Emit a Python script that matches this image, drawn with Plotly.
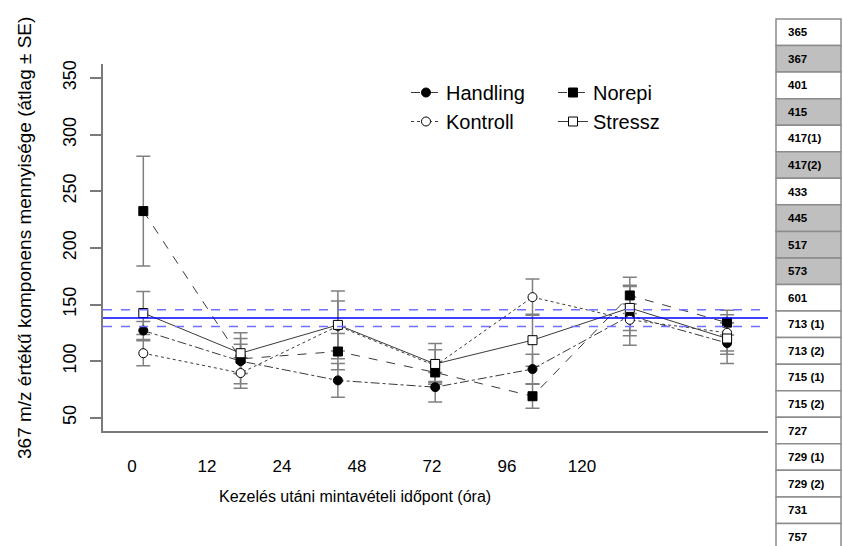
import plotly.graph_objects as go

# ---------------- data ----------------
times = ["0", "12", "24", "48", "72", "96", "120"]

handling = [127, 100, 83, 77, 93, 140, 116]
handling_se = [8, 20, 15, 13, 13, 26, 18]
kontroll = [107, 89.5, 131, 96, 156.5, 136.5, 125]
kontroll_se = [11, 13.5, 22, 14, 16, 14, 16]
norepi = [232.5, 102, 108.5, 90, 69, 158, 134]
norepi_se = [48.5, 13, 16, 9, 10.5, 16, 11]
stressz = [142.5, 107, 132, 97.5, 118.5, 147, 120]
stressz_se = [19, 18, 30, 18, 23, 20, 14]

ref_mean = 138
ref_se = 7.4

yticks = [50, 100, 150, 200, 250, 300, 350]

table_labels = ["365", "367", "401", "415", "417(1)", "417(2)", "433", "445", "517", "573",
                "601", "713 (1)", "713 (2)", "715 (1)", "715 (2)", "727", "729 (1)", "729 (2)",
                "731", "757"]
table_shaded = [False, True, False, True, False, True, False, True, True, True,
                False, False, False, False, False, False, False, False, False, False]

# ---------------- layout helpers ----------------
W, H = 843, 546
L, R, T, B = 103, 768, 64, 431


def px_x(p):
    return (p - L) / (R - L)


def px_y(p):
    return (B - p) / (B - T)


idx = list(range(len(times)))
LINE = "#3a3a3a"
ERR = "#808080"
AXC = "#7a7a7a"
FONT = "Liberation Sans, Arial"

series = [
    ("Handling", handling, handling_se, "circle", "black", "dashdot", "legend"),
    ("Kontroll", kontroll, kontroll_se, "circle-open", "white", "dot", "legend"),
    ("Norepi", norepi, norepi_se, "square", "black", "dash", "legend2"),
    ("Stressz", stressz, stressz_se, "square-open", "white", "solid", "legend2"),
]

fig = go.Figure()

# error bars first (underneath)
for name, vals, se, sym, fill, dash, lg in series:
    fig.add_trace(go.Scatter(
        x=idx, y=vals, mode="markers",
        marker=dict(size=1, color="rgba(0,0,0,0)"),
        error_y=dict(type="data", array=se, visible=True, color=ERR, thickness=1.5, width=7),
        showlegend=False, hoverinfo="skip"))

for name, vals, se, sym, fill, dash, lg in series:
    msym = "square" if "square" in sym else "circle"
    fig.add_trace(go.Scatter(
        x=idx, y=vals, mode="lines+markers", name=name, legend=lg,
        line=dict(color=LINE, width=1, dash=dash),
        marker=dict(symbol=msym, size=9, color=fill, line=dict(color="black", width=1)),
    ))

# invisible trace carrying the label axis
fig.add_trace(go.Scatter(x=idx, y=[None] * len(idx), xaxis="x2", mode="markers",
                         showlegend=False, hoverinfo="skip"))

# reference lines
fig.add_shape(type="line", xref="paper", x0=0, x1=1, yref="y", y0=ref_mean, y1=ref_mean,
              line=dict(color="#0000ff", width=1.5))
for v in (ref_mean - ref_se, ref_mean + ref_se):
    fig.add_shape(type="line", xref="paper", x0=0, x1=1, yref="y", y0=v, y1=v,
                  line=dict(color="#7070ff", width=1.5, dash="dash"))

# table on the right
tx0, tx1 = 776, 841
ty0 = 19
rh = 26.55
for i, (lab, sh) in enumerate(zip(table_labels, table_shaded)):
    y0 = ty0 + i * rh
    y1 = y0 + rh
    fig.add_shape(type="rect", xref="paper", yref="paper",
                  x0=px_x(tx0), x1=px_x(tx1), y0=px_y(y1), y1=px_y(y0),
                  fillcolor="#bfbfbf" if sh else "white",
                  line=dict(color="#8c8c8c", width=1.5), layer="above")
    fig.add_annotation(xref="paper", yref="paper", x=px_x(786), y=px_y((y0 + y1) / 2),
                       xanchor="left", yanchor="middle", showarrow=False,
                       text="<b>" + lab + "</b>",
                       font=dict(family=FONT, size=11.5, color="black"))

# axis titles as annotations
fig.add_annotation(xref="paper", yref="paper", x=px_x(24), y=px_y(238),
                   text="367 m/z értékű komponens mennyisége (átlag ± SE)", textangle=-90,
                   showarrow=False, xanchor="center", yanchor="middle",
                   font=dict(family=FONT, size=19, color="black"))
fig.add_annotation(xref="paper", yref="paper", x=px_x(355), y=px_y(496),
                   text="Kezelés utáni mintavételi időpont (óra)",
                   showarrow=False, xanchor="center", yanchor="middle",
                   font=dict(family=FONT, size=16, color="black"))

pt0, pstep = 143.3, 97.3
lb0, lstep = 132, 75

fig.update_layout(
    width=W, height=H,
    margin=dict(l=L, r=W - R, t=T, b=H - B, autoexpand=False),
    paper_bgcolor="white", plot_bgcolor="white",
    showlegend=True,
    xaxis=dict(range=[(L - pt0) / pstep, (R - pt0) / pstep], showticklabels=False,
               showgrid=False, zeroline=False, showline=True, linecolor=AXC, linewidth=1.5,
               ticks=""),
    xaxis2=dict(overlaying="x", anchor="y", side="bottom",
                range=[(L - lb0) / lstep, (R - lb0) / lstep],
                tickmode="array", tickvals=idx, ticktext=times,
                ticks="outside", ticklen=20, tickcolor="rgba(0,0,0,0)",
                showgrid=False, zeroline=False, showline=False,
                tickfont=dict(family=FONT, size=17, color="black")),
    yaxis=dict(range=[38.3, 362.4], tickmode="array", tickvals=yticks, tickangle=-90,
               showgrid=False, zeroline=False, showline=True, linecolor=AXC, linewidth=1.5,
               ticks="outside", ticklen=11, tickcolor=AXC, tickwidth=1.5,
               ticklabelstandoff=7,
               tickfont=dict(family=FONT, size=18, color="black")),
    legend=dict(x=px_x(406), y=px_y(73), xanchor="left", yanchor="top",
                bgcolor="rgba(0,0,0,0)", font=dict(family=FONT, size=20, color="black"),
                tracegroupgap=0, itemclick=False),
    legend2=dict(x=px_x(553), y=px_y(73), xanchor="left", yanchor="top",
                 bgcolor="rgba(0,0,0,0)", font=dict(family=FONT, size=20, color="black"),
                 tracegroupgap=0, itemclick=False),
)

fig.write_html("out.html")
